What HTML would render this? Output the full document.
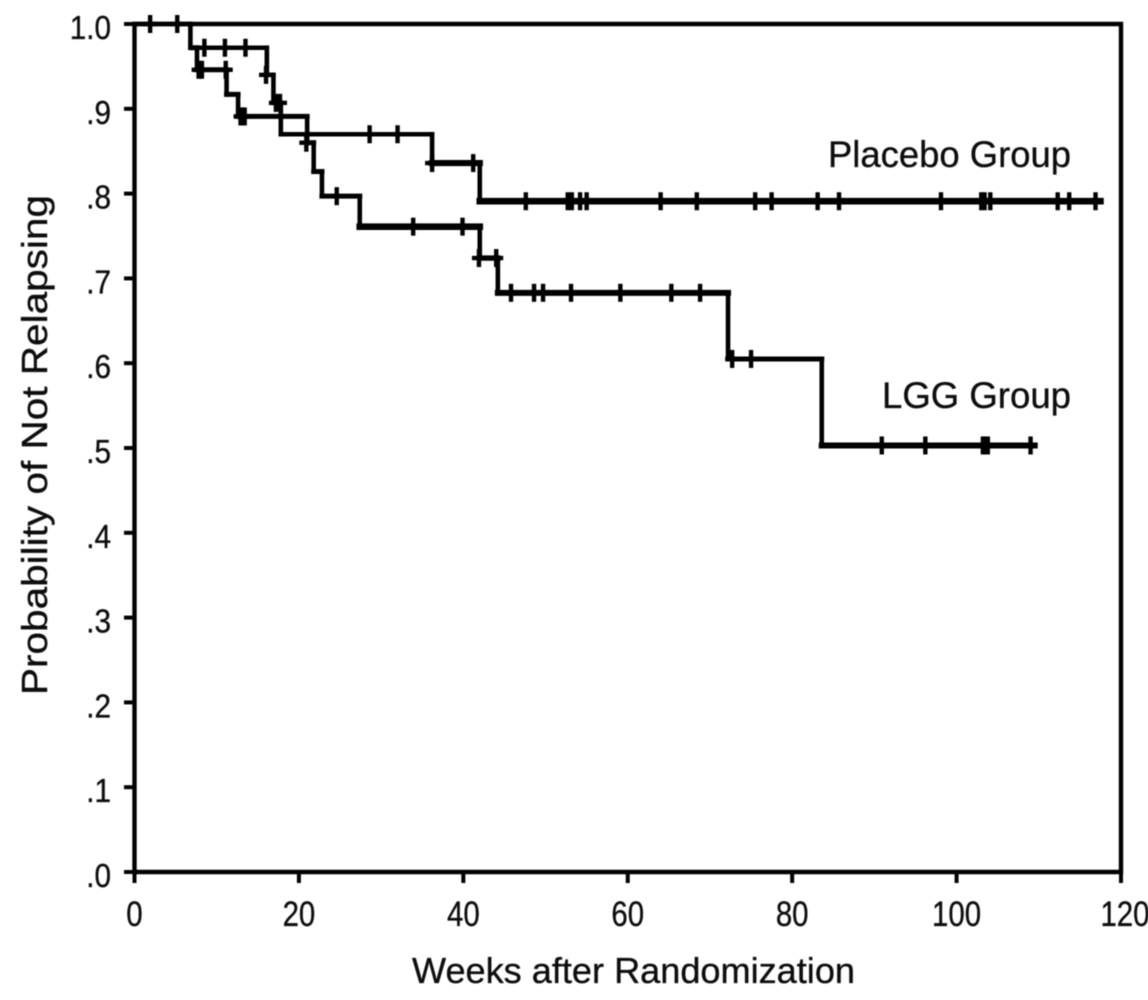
<!DOCTYPE html>
<html lang="en">
<head>
<meta charset="utf-8">
<title>Probability of Not Relapsing</title>
<style>
html,body{margin:0;padding:0;background:#fff;}
body{width:1148px;height:1000px;overflow:hidden;}
svg{display:block;}
text{font-family:"Liberation Sans",Arial,sans-serif;fill:#111;stroke:#111;stroke-width:0.35px;}
</style>
</head>
<body>
<svg id="chart" width="1148" height="1000" viewBox="0 0 1148 1000" xmlns="http://www.w3.org/2000/svg">
<defs><filter id="soft" x="-2%" y="-2%" width="104%" height="104%"><feGaussianBlur stdDeviation="0.55"/></filter></defs>
<g id="root" filter="url(#soft)"></g>
</svg>
<script>
// ---- data ----
const xTickValues = [0, 20, 40, 60, 80, 100, 120];
const xTickLabels = ["0", "20", "40", "60", "80", "100", "120"];
const yTickValues = [0, 0.1, 0.2, 0.3, 0.4, 0.5, 0.6, 0.7, 0.8, 0.9, 1.0];
const yTickLabels = [".0", ".1", ".2", ".3", ".4", ".5", ".6", ".7", ".8", ".9", "1.0"];

// step curves: week at which each level ends, and the level itself
const placeboWeeks = [0, 6.8, 16.1, 16.9, 17.8, 36.2, 42.0, 117.5];
const placeboLevels = [1.0, 0.972, 0.94, 0.907, 0.87, 0.836, 0.791];
const placeboCensorWeeks = [1.9, 5.2, 8.5, 11.0, 13.5, 16.0, 17.2, 17.7, 28.6, 32.0, 36.2, 41.2, 47.6, 52.7, 53.2, 54.2, 55.0, 64.0, 68.4, 75.5, 77.5, 83.1, 85.7, 98.1, 103.0, 103.4, 104.1, 112.3, 113.7, 116.9];
const placeboCensorLevels = [1.0, 1.0, 0.972, 0.972, 0.972, 0.94, 0.907, 0.907, 0.87, 0.87, 0.836, 0.836, 0.791, 0.791, 0.791, 0.791, 0.791, 0.791, 0.791, 0.791, 0.791, 0.791, 0.791, 0.791, 0.791, 0.791, 0.791, 0.791, 0.791, 0.791];

const lggWeeks = [7.0, 7.6, 11.2, 12.6, 21.0, 21.8, 22.8, 27.4, 42.0, 44.2, 72.2, 83.6, 109.5];
const lggLevels = [0.972, 0.946, 0.917, 0.891, 0.86, 0.826, 0.797, 0.761, 0.724, 0.683, 0.605, 0.503];
const lggCensorWeeks = [7.8, 8.2, 11.1, 12.9, 13.2, 13.4, 20.9, 24.6, 33.9, 39.9, 41.9, 44.0, 45.8, 48.6, 49.7, 53.1, 59.1, 65.3, 68.8, 72.7, 75.0, 90.9, 96.2, 103.2, 103.5, 103.8, 109.0];
const lggCensorLevels = [0.946, 0.946, 0.946, 0.891, 0.891, 0.891, 0.86, 0.797, 0.761, 0.761, 0.724, 0.724, 0.683, 0.683, 0.683, 0.683, 0.683, 0.683, 0.683, 0.605, 0.605, 0.503, 0.503, 0.503, 0.503, 0.503, 0.503];

// ---- axis functions ----
const xMin = 0, xMax = 120, yMin = 0, yMax = 1;
const plotLeft = 134.5, plotRight = 1121, plotTop = 24, plotBottom = 872;
function xScale(v) { return plotLeft + (v - xMin) / (xMax - xMin) * (plotRight - plotLeft); }
function yScale(v) { return plotBottom - (v - yMin) / (yMax - yMin) * (plotBottom - plotTop); }

// ---- stroke styling by position ----
function placeboWeight(level) { return level > 0.85 ? 4.4 : (level > 0.8 ? 6.2 : 6.6); }
function lggWeight(level) {
  if (level > 0.78) return 5;
  if (level > 0.7) return level > 0.74 ? 6.6 : 5.4;
  if (level > 0.65) return 6;
  return level > 0.55 ? 5 : 6;
}

const NS = "http://www.w3.org/2000/svg";
const root = document.getElementById("root");
function mk(tag, attrs, parent) {
  const el = document.createElementNS(NS, tag);
  for (const k in attrs) el.setAttribute(k, attrs[k]);
  (parent || root).appendChild(el);
  return el;
}
function fitText(el, factor) {
  el.setAttribute("textLength", (el.getComputedTextLength() * factor).toFixed(1));
  el.setAttribute("lengthAdjust", "spacingAndGlyphs");
}

// ---- frame ----
const frame = mk("path", {
  d: "M" + plotLeft + " " + plotBottom + "V" + plotTop + "H" + plotRight + "V" + plotBottom + "Z",
  fill: "none", stroke: "#000", "stroke-width": 4.4
});



// ---- y ticks ----
yTickValues.forEach(function (v, i) {
  const t = mk("line", { x1: 124, x2: plotLeft, y1: yScale(v), y2: yScale(v), stroke: "#000", "stroke-width": 4 });
  
  
  const l = mk("text", { x: 111, y: yScale(v) + 15, "text-anchor": "end", "font-size": 33 });
  l.textContent = yTickLabels[i];
  
  
  fitText(l, 0.9);
});

// ---- x ticks ----
xTickValues.forEach(function (v, i) {
  const t = mk("line", { x1: xScale(v), x2: xScale(v), y1: plotBottom, y2: 883, stroke: "#000", "stroke-width": 4 });
  
  
  const l = mk("text", { x: xScale(v) + (v === 120 ? 4 : 0), y: 926, "text-anchor": "middle", "font-size": 35 });
  l.textContent = xTickLabels[i];
  
  
  fitText(l, 0.84);
});

// ---- series ----
function drawSteps(weeks, levels, weightFn, name) {
  const g = mk("g", {});
  
  
  levels.forEach(function (lv, i) {
    const x0 = xScale(weeks[i]), x1 = xScale(weeks[i + 1]), y = yScale(lv);
    mk("line", { x1: x0, x2: x1, y1: y, y2: y, stroke: "#000", "stroke-width": weightFn(lv), "stroke-linecap": "square" }, g);
    if (i + 1 < levels.length) {
      mk("line", { x1: x1, x2: x1, y1: y, y2: yScale(levels[i + 1]), stroke: "#000", "stroke-width": 4.6, "stroke-linecap": "square" }, g);
    }
  });
}
function drawCensors(weeks, levels, name) {
  const g = mk("g", {});
  
  
  weeks.forEach(function (w, i) {
    const x = xScale(w), y = yScale(levels[i]);
    mk("line", { x1: x, x2: x, y1: y - 9, y2: y + 9, stroke: "#000", "stroke-width": 4.4 }, g);
    mk("line", { x1: x - 7, x2: x + 7, y1: y, y2: y, stroke: "#000", "stroke-width": 4.4 }, g);
  });
}
drawSteps(placeboWeeks, placeboLevels, placeboWeight, "placebo-group-curve");
drawSteps(lggWeeks, lggLevels, lggWeight, "lgg-group-curve");
drawCensors(placeboCensorWeeks, placeboCensorLevels, "placebo-censor-marks");
drawCensors(lggCensorWeeks, lggCensorLevels, "lgg-censor-marks");

// ---- titles and labels ----
const xTitle = mk("text", { x: 412, y: 983, "font-size": 36, textLength: 443, lengthAdjust: "spacingAndGlyphs" });
xTitle.textContent = "Weeks after Randomization";



const yTitle = mk("text", { x: 0, y: 0, "font-size": 36, textLength: 500, lengthAdjust: "spacingAndGlyphs", transform: "translate(47 695) rotate(-90)" });
yTitle.textContent = "Probability of Not Relapsing";



const placeboLabel = mk("text", { x: 828, y: 167, "font-size": 37, textLength: 243, lengthAdjust: "spacingAndGlyphs" });
placeboLabel.textContent = "Placebo Group";



const lggLabel = mk("text", { x: 882, y: 408, "font-size": 37, textLength: 189, lengthAdjust: "spacingAndGlyphs" });
lggLabel.textContent = "LGG Group";


</script>
</body>
</html>
